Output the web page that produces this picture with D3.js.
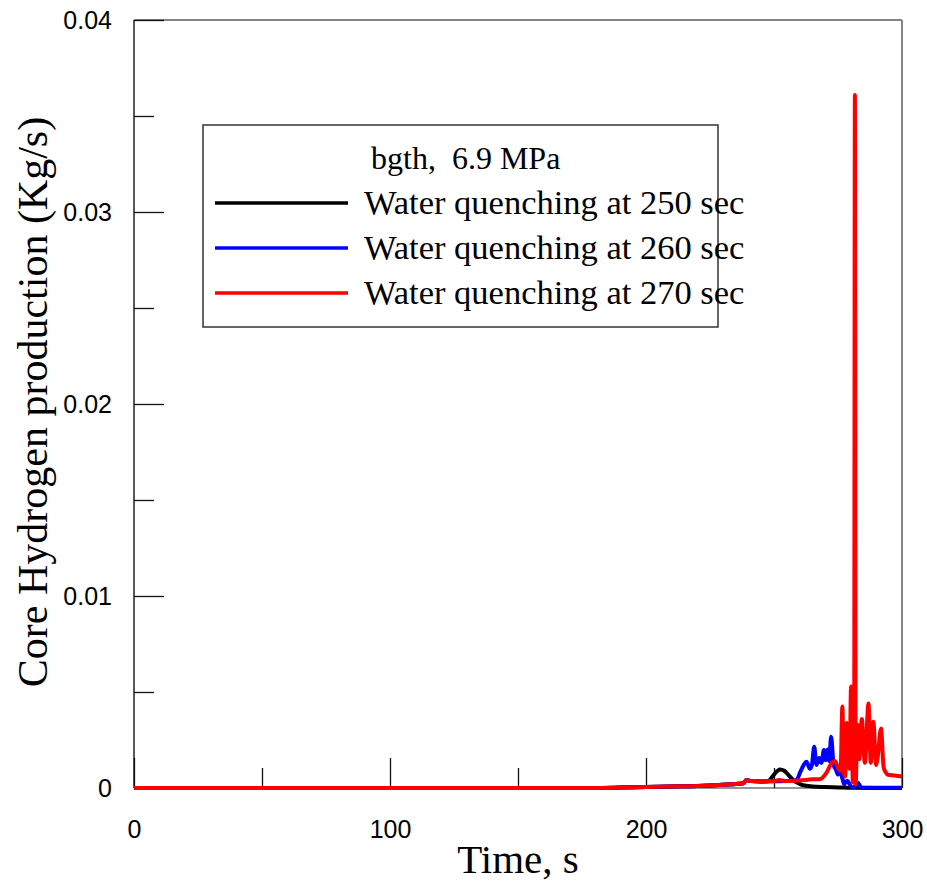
<!DOCTYPE html>
<html>
<head>
<meta charset="utf-8">
<script src="https://cdn.jsdelivr.net/npm/d3@7"></script>
<style>
    html, body { margin: 0; padding: 0; background: #fff; }
    svg { display: block; }
</style>
</head>
<body>
<svg id="chart" width="927" height="884"></svg>
<script>
// time (s) and hydrogen production (kg/s) for each quenching case
const timeBlack = [0, 180, 190, 200, 210, 220, 230, 236, 238, 239.3, 241, 245, 248,
    248.4, 250, 252.3, 254, 255.5, 257.5, 259.5, 261.4, 265, 270, 275, 280, 290, 300];
const valueBlack = [0, 0, 0.00002, 0.00005, 0.00008, 0.00011, 0.00017, 0.00022, 0.00025, 0.00042, 0.00036, 0.00034, 0.00035,
    0.00042, 0.0007, 0.00097, 0.0009, 0.0007, 0.00042, 0.00025, 0.00014, 0.00008, 0.00005, 0.00003, 0.00001, 0, 0];

const timeBlue = [0, 180, 190, 200, 210, 220, 230, 236, 238, 239.3, 241, 245, 248,
    250, 255, 258.8, 260.5, 262.7, 264, 264.8, 265.7, 266.6, 267.6, 268.5, 269.5, 270.2, 271, 271.6, 272.3,
    273.3, 274.2, 275, 275.6, 276.7, 277.4, 278.6, 280, 281, 282.6, 284.2, 290, 300];
const valueBlue = [0, 0, 0.00002, 0.00005, 0.00008, 0.00011, 0.00017, 0.00022, 0.00025, 0.00042, 0.00036, 0.00034, 0.00035,
    0.00035, 0.00036, 0.00042, 0.0009, 0.00137, 0.001, 0.0012, 0.00215, 0.0012, 0.00156, 0.0013, 0.00198, 0.00145, 0.002, 0.0014, 0.00267,
    0.0012, 0.00095, 0.0007, 0.00095, 0.0005, 0.0002, 0.00038, 0.0001, 0.00002, 0.00028, 0.00003, 0.00001, 0.00001];

const timeRed = [0, 180, 190, 200, 210, 220, 230, 236, 238, 239.3, 241, 245, 248,
    250, 252, 254, 258, 262, 265, 267.8, 270.4, 272.5, 273.8, 275.2, 276, 276.7, 277.3, 277.8, 278.4, 279, 279.5,
    280.1, 280.8, 281.3, 281.6, 281.9, 282.6, 283.3, 284.3, 285.5, 286.9, 287.8, 288.8, 289.9, 290.5, 291.8,
    292.8, 293.5, 294.3, 297, 300];
const valueRed = [0, 0, 0.00002, 0.00005, 0.00008, 0.00011, 0.00017, 0.00022, 0.00025, 0.00042, 0.00036, 0.00034, 0.00035,
    0.00035, 0.00042, 0.00036, 0.00038, 0.00042, 0.00045, 0.00045, 0.00077, 0.0013, 0.0014, 0.001, 0.0009, 0.00424, 0.0008, 0.0006, 0.00339, 0.0013, 0.001,
    0.00528, 0.0003, 0.0012, 0.0361, 0.0002, 0.0033, 0.0015, 0.0036, 0.0013, 0.0044, 0.0013, 0.00345, 0.0012, 0.0016, 0.0031,
    0.0011, 0.00085, 0.0007, 0.00065, 0.0006];

const seriesNames = ["Water quenching at 250 sec", "Water quenching at 260 sec", "Water quenching at 270 sec"];
const seriesColors = ["#000000", "#0000ff", "#ff0000"];
const legendTitle = "bgth,  6.9 MPa";

const xMajorTicks = [0, 100, 200, 300];
const xMinorTicks = [50, 150, 250];
const yMajorTicks = [0, 0.01, 0.02, 0.03, 0.04];
const yMinorTicks = [0.005, 0.015, 0.025, 0.035];

// 绘图区
const margin = {top: 20, right: 25, bottom: 96, left: 134};
const svg = d3.select("#chart");
const width = +svg.attr("width") - margin.left - margin.right;
const height = +svg.attr("height") - margin.top - margin.bottom;
const g = svg.append("g").attr("transform", `translate(${margin.left},${margin.top})`);

const x = d3.scaleLinear().domain([0, 300]).range([0, width]);
const y = d3.scaleLinear().domain([0, 0.04]).range([height, 0]);

const tickFont = "'Liberation Sans', Arial, sans-serif";
const serifFont = "'Liberation Serif', 'Times New Roman', serif";

// frame: top / right grey, left / bottom darker
g.append("line").attr("x1", 0).attr("x2", width).attr("y1", 0).attr("y2", 0)
    .attr("stroke", "#858585").attr("stroke-width", 2);
g.append("line").attr("x1", width).attr("x2", width).attr("y1", 0).attr("y2", height)
    .attr("stroke", "#858585").attr("stroke-width", 2);
g.append("line").attr("x1", 0).attr("x2", width).attr("y1", height).attr("y2", height)
    .attr("stroke", "#707070").attr("stroke-width", 1.5);
g.append("line").attr("x1", 0).attr("x2", 0).attr("y1", 0).attr("y2", height)
    .attr("stroke", "#222").attr("stroke-width", 1.5);

function styleAxis(sel) {
    sel.select(".domain").remove();
    sel.selectAll(".tick line").attr("stroke", "#111").attr("stroke-width", 1.3);
    sel.selectAll(".tick text").attr("fill", "#000").style("font-family", tickFont).style("font-size", "25px");
}

// x 轴 (inside ticks)
g.append("g").attr("transform", `translate(0,${height})`)
    .call(d3.axisBottom(x).tickValues(xMajorTicks).tickSize(-30).tickPadding(32).tickFormat(d3.format("d")))
    .call(styleAxis);
g.append("g").attr("transform", `translate(0,${height})`)
    .call(d3.axisBottom(x).tickValues(xMinorTicks).tickSize(-20).tickFormat(""))
    .call(styleAxis);

// y 轴 (inside ticks)
g.append("g")
    .call(d3.axisLeft(y).tickValues(yMajorTicks).tickSize(-30).tickPadding(22)
        .tickFormat(d => d === 0 ? "0" : d3.format(".2f")(d)))
    .call(styleAxis);
g.append("g")
    .call(d3.axisLeft(y).tickValues(yMinorTicks).tickSize(-20).tickFormat(""))
    .call(styleAxis);

// curves
const line = d3.line()
    .x(d => x(d[0]))
    .y(d => y(d[1]))
    .curve(d3.curveMonotoneX);

const series = [
    d3.zip(timeBlack, valueBlack),
    d3.zip(timeBlue, valueBlue),
    d3.zip(timeRed, valueRed)
];

g.append("g").selectAll("path")
    .data(series)
    .join("path")
    .attr("fill", "none")
    .attr("stroke", (d, i) => seriesColors[i])
    .attr("stroke-width", 4)
    .attr("stroke-linejoin", "round")
    .attr("d", line);

// axis titles
svg.append("text")
    .attr("x", margin.left + width / 2)
    .attr("y", 873)
    .attr("text-anchor", "middle")
    .style("font-family", serifFont)
    .style("font-size", "41px")
    .text("Time, s");

svg.append("text")
    .attr("transform", `translate(47,${margin.top + height / 2 - 2}) rotate(-90)`)
    .attr("text-anchor", "middle")
    .style("font-family", serifFont)
    .style("font-size", "42px")
    .text("Core Hydrogen production (Kg/s)");

// legend
const legend = svg.append("g").attr("transform", "translate(203,125)");
legend.append("rect")
    .attr("width", 515).attr("height", 202)
    .attr("fill", "#fff").attr("stroke", "#333").attr("stroke-width", 1.5);

legend.append("text")
    .attr("x", 168).attr("y", 44)
    .style("font-family", serifFont)
    .style("font-size", "32px")
    .style("white-space", "pre")
    .text(legendTitle);

const item = legend.selectAll(".item")
    .data(seriesNames)
    .join("g")
    .attr("class", "item")
    .attr("transform", (d, i) => `translate(0,${78 + i * 45})`);

item.append("line")
    .attr("x1", 12).attr("x2", 145)
    .attr("stroke", (d, i) => seriesColors[i])
    .attr("stroke-width", 3.5);

item.append("text")
    .attr("x", 161).attr("y", 11)
    .style("font-family", serifFont)
    .style("font-size", "34.5px")
    .text(d => d);
</script>
</body>
</html>
